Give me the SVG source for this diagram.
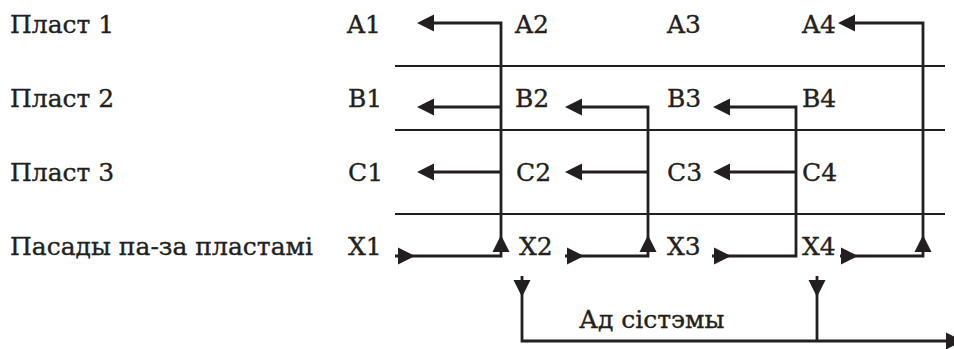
<svg xmlns="http://www.w3.org/2000/svg" width="954" height="349" viewBox="0 0 954 349">
<style>
text{font-family:"DejaVu Serif","Liberation Serif",serif;font-size:25px;fill:#231f20;stroke:#231f20;stroke-width:0.35}
.ln{fill:none;stroke:#231f20;stroke-width:2.8}
.dv{fill:none;stroke:#231f20;stroke-width:2.2}
.ah{fill:#231f20}
</style>
<rect width="954" height="349" fill="#fff"/>
<g id="labels">
<text x="10" y="33">Пласт 1</text>
<text x="10" y="107">Пласт 2</text>
<text x="10" y="181">Пласт 3</text>
<text x="10" y="255">Пасады па-за пластамі</text>
</g>
<g id="dividers">
<line class="dv" x1="395" y1="66" x2="945" y2="66"/>
<line class="dv" x1="395" y1="130" x2="945" y2="130"/>
<line class="dv" x1="395" y1="214" x2="945" y2="214"/>
</g>
<g id="nodeA1"><text x="347" y="33">A1</text></g>
<g id="nodeA2"><text x="515" y="33">A2</text></g>
<g id="nodeA3"><text x="667" y="33">A3</text></g>
<g id="nodeA4"><text x="802" y="33">A4</text></g>
<g id="nodeB1"><text x="348" y="107">B1</text></g>
<g id="nodeB2"><text x="515" y="107">B2</text></g>
<g id="nodeB3"><text x="667" y="107">B3</text></g>
<g id="nodeB4"><text x="802" y="107">B4</text></g>
<g id="nodeC1"><text x="348" y="181">C1</text></g>
<g id="nodeC2"><text x="516" y="181">C2</text></g>
<g id="nodeC3"><text x="667" y="181">C3</text></g>
<g id="nodeC4"><text x="802" y="181">C4</text></g>
<g id="nodeX1"><text x="348" y="255">X1</text></g>
<g id="nodeX2"><text x="519" y="255">X2</text></g>
<g id="nodeX3"><text x="667" y="255">X3</text></g>
<g id="nodeX4"><text x="802" y="255">X4</text></g>
<g id="nodeOut"><text x="579" y="328">Ад сістэмы</text></g>
<g id="connectors">
<path class="ln" d="M395,256 H501 V23 H430"/>
<path class="ln" d="M501,107 H430 M501,172 H430"/>
<path class="ln" d="M565,256 H648 V107 H578"/>
<path class="ln" d="M648,172 H578"/>
<path class="ln" d="M712,256 H796 V107 H726"/>
<path class="ln" d="M796,172 H726"/>
<path class="ln" d="M840,256 H923 V23 H851"/>
<path class="ln" d="M522,276 V341 H950"/>
<path class="ln" d="M817,276 V341"/>
<g class="ah">
<polygon points="417,23 434,14.5 434,31.5"/>
<polygon points="417,107 434,98.5 434,115.5"/>
<polygon points="417,172 434,163.5 434,180.5"/>
<polygon points="565,107 582,98.5 582,115.5"/>
<polygon points="565,172 582,163.5 582,180.5"/>
<polygon points="713,107 730,98.5 730,115.5"/>
<polygon points="713,172 730,163.5 730,180.5"/>
<polygon points="838,23 855,14.5 855,31.5"/>
<polygon points="415,256 398,247.5 398,264.5"/>
<polygon points="584,256 567,247.5 567,264.5"/>
<polygon points="731,256 714,247.5 714,264.5"/>
<polygon points="858,256 841,247.5 841,264.5"/>
<polygon points="501,235 492.5,252 509.5,252"/>
<polygon points="648,235 639.5,252 656.5,252"/>
<polygon points="923,235 914.5,252 931.5,252"/>
<polygon points="522,297 513.5,280 530.5,280"/>
<polygon points="817,297 808.5,280 825.5,280"/>
<polygon points="963,341 946,332.5 946,349.5"/>
</g>
</g>
</svg>
